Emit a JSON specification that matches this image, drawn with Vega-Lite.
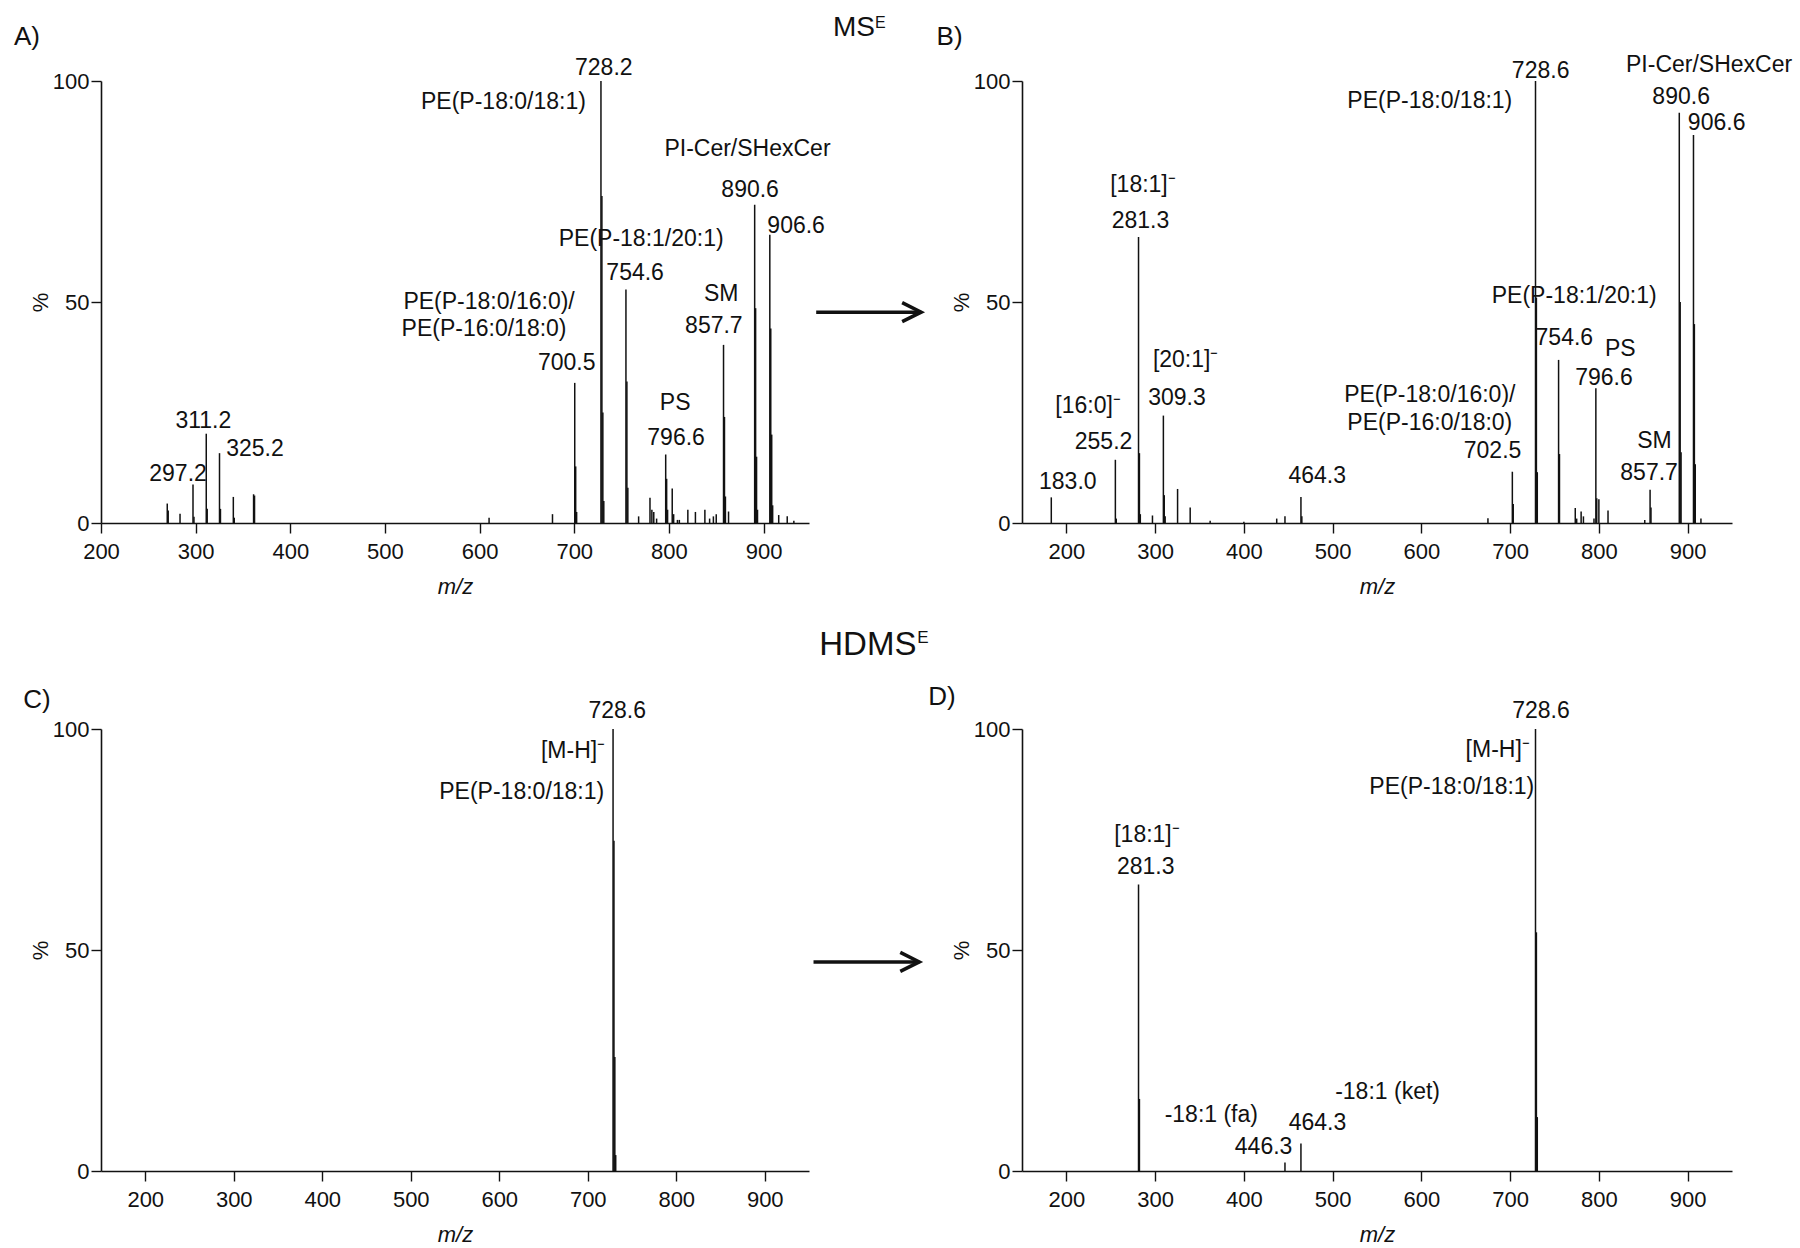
{
  "$schema": "https://vega.github.io/schema/vega-lite/v6.json",
  "background": "white",
  "padding": {"left": 14, "top": 13, "right": 5, "bottom": 5},
  "config": {
    "font": "Liberation Sans",
    "view": {"stroke": null},
    "axis": {"grid": false, "domainColor": "#111", "domainWidth": 1.6, "tickColor": "#111", "tickWidth": 1.4, "tickSize": 10, "labelFont": "Liberation Sans", "labelFontSize": 22, "labelColor": "#111", "titleFont": "Liberation Sans", "titleFontSize": 22, "titleFontWeight": "normal", "titleColor": "#111", "labelFlush": false, "labelOverlap": false},
    "axisX": {"labelPadding": 8, "titlePadding": 14},
    "axisY": {"labelPadding": 2, "titlePadding": 0},
    "text": {"color": "#111", "font": "Liberation Sans"}
  },
  "datasets": {
    "peaks": [
      {"panel": "A", "mz": 270, "pct": 4.4}, {"panel": "A", "mz": 271, "pct": 2.8}, {"panel": "A", "mz": 283.5, "pct": 2.1},
      {"panel": "A", "mz": 297.2, "pct": 8.7}, {"panel": "A", "mz": 298.2, "pct": 1.4}, {"panel": "A", "mz": 311.2, "pct": 20.2},
      {"panel": "A", "mz": 312.2, "pct": 3.2}, {"panel": "A", "mz": 325.2, "pct": 15.8}, {"panel": "A", "mz": 326.2, "pct": 3.2},
      {"panel": "A", "mz": 339.8, "pct": 5.9}, {"panel": "A", "mz": 340.8, "pct": 1.2}, {"panel": "A", "mz": 361.2, "pct": 6.5},
      {"panel": "A", "mz": 362.2, "pct": 6.2}, {"panel": "A", "mz": 610, "pct": 1.2}, {"panel": "A", "mz": 677, "pct": 2.0},
      {"panel": "A", "mz": 700.5, "pct": 31.7}, {"panel": "A", "mz": 701.5, "pct": 12.8}, {"panel": "A", "mz": 702.5, "pct": 2.5},
      {"panel": "A", "mz": 728.2, "pct": 100}, {"panel": "A", "mz": 729.2, "pct": 74}, {"panel": "A", "mz": 730.2, "pct": 25},
      {"panel": "A", "mz": 731.2, "pct": 5}, {"panel": "A", "mz": 754.6, "pct": 52.8}, {"panel": "A", "mz": 755.6, "pct": 32},
      {"panel": "A", "mz": 756.6, "pct": 8}, {"panel": "A", "mz": 768, "pct": 1.5}, {"panel": "A", "mz": 780, "pct": 5.7},
      {"panel": "A", "mz": 782, "pct": 3}, {"panel": "A", "mz": 784, "pct": 2.5}, {"panel": "A", "mz": 787, "pct": 1},
      {"panel": "A", "mz": 796.6, "pct": 15.5}, {"panel": "A", "mz": 797.6, "pct": 10}, {"panel": "A", "mz": 798.6, "pct": 3},
      {"panel": "A", "mz": 803.5, "pct": 7.8}, {"panel": "A", "mz": 805, "pct": 2}, {"panel": "A", "mz": 809, "pct": 0.7},
      {"panel": "A", "mz": 811, "pct": 0.7}, {"panel": "A", "mz": 820, "pct": 3}, {"panel": "A", "mz": 828, "pct": 2.5},
      {"panel": "A", "mz": 838, "pct": 3}, {"panel": "A", "mz": 843, "pct": 1}, {"panel": "A", "mz": 847, "pct": 1.5},
      {"panel": "A", "mz": 850, "pct": 2}, {"panel": "A", "mz": 857.7, "pct": 40.3}, {"panel": "A", "mz": 858.7, "pct": 24},
      {"panel": "A", "mz": 859.7, "pct": 6}, {"panel": "A", "mz": 863, "pct": 2.6}, {"panel": "A", "mz": 890.6, "pct": 72},
      {"panel": "A", "mz": 891.6, "pct": 48.6}, {"panel": "A", "mz": 892.6, "pct": 15}, {"panel": "A", "mz": 893.6, "pct": 3},
      {"panel": "A", "mz": 906.6, "pct": 65.2}, {"panel": "A", "mz": 907.6, "pct": 44}, {"panel": "A", "mz": 908.6, "pct": 20},
      {"panel": "A", "mz": 909.6, "pct": 4}, {"panel": "A", "mz": 916, "pct": 1.8}, {"panel": "A", "mz": 925, "pct": 1.5},
      {"panel": "A", "mz": 932, "pct": 0.5},
      {"panel": "B", "mz": 183.0, "pct": 5.8}, {"panel": "B", "mz": 255.2, "pct": 14.3}, {"panel": "B", "mz": 256.2, "pct": 1},
      {"panel": "B", "mz": 281.3, "pct": 64.7}, {"panel": "B", "mz": 282.3, "pct": 15.8}, {"panel": "B", "mz": 283.3, "pct": 2},
      {"panel": "B", "mz": 297, "pct": 1.7}, {"panel": "B", "mz": 309.3, "pct": 24.3}, {"panel": "B", "mz": 310.3, "pct": 6.3},
      {"panel": "B", "mz": 311.3, "pct": 1.5}, {"panel": "B", "mz": 325.3, "pct": 7.7}, {"panel": "B", "mz": 339.5, "pct": 3.5},
      {"panel": "B", "mz": 362, "pct": 0.5}, {"panel": "B", "mz": 400, "pct": 0.3}, {"panel": "B", "mz": 437, "pct": 1},
      {"panel": "B", "mz": 446.3, "pct": 1.5}, {"panel": "B", "mz": 464.3, "pct": 5.9}, {"panel": "B", "mz": 465.3, "pct": 1.5},
      {"panel": "B", "mz": 675, "pct": 1.1}, {"panel": "B", "mz": 702.5, "pct": 11.6}, {"panel": "B", "mz": 703.5, "pct": 4.3},
      {"panel": "B", "mz": 728.6, "pct": 100}, {"panel": "B", "mz": 729.6, "pct": 51}, {"panel": "B", "mz": 730.6, "pct": 11.5},
      {"panel": "B", "mz": 754.6, "pct": 36.9}, {"panel": "B", "mz": 755.6, "pct": 15.6}, {"panel": "B", "mz": 773.4, "pct": 3.4},
      {"panel": "B", "mz": 775, "pct": 1}, {"panel": "B", "mz": 780, "pct": 2.6}, {"panel": "B", "mz": 782.6, "pct": 1.5},
      {"panel": "B", "mz": 794.5, "pct": 1}, {"panel": "B", "mz": 796.6, "pct": 30.5}, {"panel": "B", "mz": 797.6, "pct": 5.6},
      {"panel": "B", "mz": 800, "pct": 5.4}, {"panel": "B", "mz": 810.3, "pct": 2.8}, {"panel": "B", "mz": 851.7, "pct": 0.7},
      {"panel": "B", "mz": 857.7, "pct": 7.5}, {"panel": "B", "mz": 858.7, "pct": 3.5}, {"panel": "B", "mz": 890.6, "pct": 92.8},
      {"panel": "B", "mz": 891.6, "pct": 50}, {"panel": "B", "mz": 892.6, "pct": 16}, {"panel": "B", "mz": 906.6, "pct": 87.8},
      {"panel": "B", "mz": 907.6, "pct": 45}, {"panel": "B", "mz": 908.6, "pct": 13.3}, {"panel": "B", "mz": 915, "pct": 1},
      {"panel": "C", "mz": 728.6, "pct": 100}, {"panel": "C", "mz": 729.6, "pct": 74.7}, {"panel": "C", "mz": 730.6, "pct": 25.8},
      {"panel": "C", "mz": 731.6, "pct": 3.6},
      {"panel": "D", "mz": 281.3, "pct": 64.8}, {"panel": "D", "mz": 282.3, "pct": 16.3}, {"panel": "D", "mz": 446.3, "pct": 1.9},
      {"panel": "D", "mz": 464.3, "pct": 6.2}, {"panel": "D", "mz": 728.6, "pct": 100}, {"panel": "D", "mz": 729.6, "pct": 54},
      {"panel": "D", "mz": 730.6, "pct": 12.2}
    ],
    "labels": [
      {"panel": "A", "mz": 731.2, "pct": 103.0, "text": "728.2"},
      {"panel": "A", "mz": 625.2, "pct": 95.2, "text": "PE(P-18:0/18:1)"},
      {"panel": "A", "mz": 883, "pct": 84.6, "text": "PI-Cer/SHexCer"},
      {"panel": "A", "mz": 885.8, "pct": 75.3, "text": "890.6"},
      {"panel": "A", "mz": 934.4, "pct": 67.3, "text": "906.6"},
      {"panel": "A", "mz": 770.7, "pct": 64.2, "text": "PE(P-18:1/20:1)"},
      {"panel": "A", "mz": 764.3, "pct": 56.5, "text": "754.6"},
      {"panel": "A", "mz": 855.2, "pct": 51.7, "text": "SM"},
      {"panel": "A", "mz": 847.5, "pct": 44.6, "text": "857.7"},
      {"panel": "A", "mz": 610, "pct": 50, "text": "PE(P-18:0/16:0)/"},
      {"panel": "A", "mz": 604.7, "pct": 43.9, "text": "PE(P-16:0/18:0)"},
      {"panel": "A", "mz": 692, "pct": 36.1, "text": "700.5"},
      {"panel": "A", "mz": 806.6, "pct": 27.2, "text": "PS"},
      {"panel": "A", "mz": 807.6, "pct": 19.2, "text": "796.6"},
      {"panel": "A", "mz": 308.1, "pct": 23.1, "text": "311.2"},
      {"panel": "A", "mz": 362.7, "pct": 16.7, "text": "325.2"},
      {"panel": "A", "mz": 281.4, "pct": 11, "text": "297.2"},
      {"panel": "B", "mz": 734.4, "pct": 102.3, "text": "728.6"},
      {"panel": "B", "mz": 609.5, "pct": 95.4, "text": "PE(P-18:0/18:1)"},
      {"panel": "B", "mz": 924.2, "pct": 103.6, "text": "PI-Cer/SHexCer"},
      {"panel": "B", "mz": 892.7, "pct": 96.3, "text": "890.6"},
      {"panel": "B", "mz": 932.7, "pct": 90.6, "text": "906.6"},
      {"panel": "B", "mz": 772.2, "pct": 51.3, "text": "PE(P-18:1/20:1)"},
      {"panel": "B", "mz": 761.1, "pct": 41.9, "text": "754.6"},
      {"panel": "B", "mz": 824.2, "pct": 39.4, "text": "PS"},
      {"panel": "B", "mz": 805.8, "pct": 32.8, "text": "796.6"},
      {"panel": "B", "mz": 609.5, "pct": 29, "text": "PE(P-18:0/16:0)/"},
      {"panel": "B", "mz": 609.5, "pct": 22.7, "text": "PE(P-16:0/18:0)"},
      {"panel": "B", "mz": 680.2, "pct": 16.4, "text": "702.5"},
      {"panel": "B", "mz": 862.6, "pct": 18.6, "text": "SM"},
      {"panel": "B", "mz": 856.6, "pct": 11.3, "text": "857.7"},
      {"panel": "B", "mz": 286.3, "pct": 76.5, "text": "[18:1]\u207b"},
      {"panel": "B", "mz": 283.5, "pct": 68.3, "text": "281.3"},
      {"panel": "B", "mz": 334.4, "pct": 36.9, "text": "[20:1]\u207b"},
      {"panel": "B", "mz": 324.6, "pct": 28.3, "text": "309.3"},
      {"panel": "B", "mz": 224.5, "pct": 26.4, "text": "[16:0]\u207b"},
      {"panel": "B", "mz": 241.9, "pct": 18.3, "text": "255.2"},
      {"panel": "B", "mz": 201.6, "pct": 9.2, "text": "183.0"},
      {"panel": "B", "mz": 482.6, "pct": 10.7, "text": "464.3"},
      {"panel": "C", "mz": 733.3, "pct": 104, "text": "728.6"},
      {"panel": "C", "mz": 683.4, "pct": 95, "text": "[M-H]\u207b"},
      {"panel": "C", "mz": 625.4, "pct": 85.8, "text": "PE(P-18:0/18:1)"},
      {"panel": "D", "mz": 734.8, "pct": 104, "text": "728.6"},
      {"panel": "D", "mz": 686, "pct": 95.2, "text": "[M-H]\u207b"},
      {"panel": "D", "mz": 634.3, "pct": 86.9, "text": "PE(P-18:0/18:1)"},
      {"panel": "D", "mz": 290.8, "pct": 76, "text": "[18:1]\u207b"},
      {"panel": "D", "mz": 289.4, "pct": 68.8, "text": "281.3"},
      {"panel": "D", "mz": 363.3, "pct": 12.6, "text": "-18:1 (fa)"},
      {"panel": "D", "mz": 422.2, "pct": 5.5, "text": "446.3"},
      {"panel": "D", "mz": 482.9, "pct": 10.8, "text": "464.3"},
      {"panel": "D", "mz": 561.9, "pct": 17.9, "text": "-18:1 (ket)"}
    ],
    "tags": [
      {"panel": "A", "kind": "letter", "mz": 108.1, "pct": 112.9, "text": "A)"},
      {"panel": "B", "kind": "letter", "mz": 53.7, "pct": 112.9, "text": "B)"},
      {"panel": "C", "kind": "letter", "mz": 62.2, "pct": 109.5, "text": "C)"},
      {"panel": "D", "kind": "letter", "mz": 44.4, "pct": 110.2, "text": "D)"},
      {"panel": "A", "kind": "title", "mz": 973.4, "pct": 115.2, "text": "MS"},
      {"panel": "A", "kind": "sup", "mz": 1017.8, "pct": 115.0, "text": "E"},
      {"panel": "C", "kind": "title", "mz": 961.6, "pct": 122.6, "text": "HDMS"},
      {"panel": "C", "kind": "sup", "mz": 1072.4, "pct": 122.3, "text": "E"}
    ],
    "arrows": [
      {"panel": "A", "mz": 955.6, "mz2": 1066.5, "pct": 47.7},
      {"panel": "C", "mz": 955.1, "mz2": 1074.6, "pct": 47.3}
    ]
  },
  "columns": 2,
  "bounds": "flush",
  "spacing": {"row": 206, "column": 213},
  "concat": [
    {
      "width": 708, "height": 442,
      "layer": [
        {"data": {"name": "peaks"}, "transform": [{"filter": "datum.panel === 'A'"}],
         "mark": {"type": "rule", "strokeWidth": 1.5, "color": "#111"},
         "encoding": {
           "x": {"field": "mz", "type": "quantitative", "scale": {"domain": [200, 948], "nice": false, "zero": false}, "axis": {"values": [200, 300, 400, 500, 600, 700, 800, 900], "title": "m/z", "titleFontStyle": "italic"}},
           "y": {"field": "pct", "type": "quantitative", "scale": {"domain": [0, 100], "nice": false}, "axis": {"values": [0, 50, 100], "title": "%"}},
           "y2": {"datum": 0}}},
        {"data": {"name": "labels"}, "transform": [{"filter": "datum.panel === 'A'"}],
         "mark": {"type": "text", "fontSize": 23, "align": "center", "baseline": "middle"},
         "encoding": {"x": {"field": "mz", "type": "quantitative"}, "y": {"field": "pct", "type": "quantitative"}, "text": {"field": "text"}}},
        {"data": {"name": "tags"}, "transform": [{"filter": "datum.panel === 'A' && datum.kind === 'letter'"}],
         "mark": {"type": "text", "fontSize": 26, "align": "left", "baseline": "top"},
         "encoding": {"x": {"field": "mz", "type": "quantitative"}, "y": {"field": "pct", "type": "quantitative"}, "text": {"field": "text"}}},
        {"data": {"name": "tags"}, "transform": [{"filter": "datum.panel === 'A' && datum.kind === 'title'"}],
         "mark": {"type": "text", "fontSize": 28, "align": "left", "baseline": "top"},
         "encoding": {"x": {"field": "mz", "type": "quantitative"}, "y": {"field": "pct", "type": "quantitative"}, "text": {"field": "text"}}},
        {"data": {"name": "tags"}, "transform": [{"filter": "datum.panel === 'A' && datum.kind === 'sup'"}],
         "mark": {"type": "text", "fontSize": 16, "align": "left", "baseline": "top"},
         "encoding": {"x": {"field": "mz", "type": "quantitative"}, "y": {"field": "pct", "type": "quantitative"}, "text": {"field": "text"}}},
        {"data": {"name": "arrows"}, "transform": [{"filter": "datum.panel === 'A'"}],
         "mark": {"type": "rule", "strokeWidth": 3.5, "color": "#111"},
         "encoding": {"x": {"field": "mz", "type": "quantitative"}, "x2": {"field": "mz2"}, "y": {"field": "pct", "type": "quantitative"}}},
        {"data": {"name": "arrows"}, "transform": [{"filter": "datum.panel === 'A'"}],
         "mark": {"type": "point", "shape": "M -2 -1 L 0 0 L -2 1", "filled": false, "size": 361, "strokeWidth": 3.5, "color": "#111", "opacity": 1, "strokeJoin": "miter"},
         "encoding": {"x": {"field": "mz2", "type": "quantitative"}, "y": {"field": "pct", "type": "quantitative"}}}
      ]
    },
    {
      "width": 710, "height": 442,
      "layer": [
        {"data": {"name": "peaks"}, "transform": [{"filter": "datum.panel === 'B'"}],
         "mark": {"type": "rule", "strokeWidth": 1.5, "color": "#111"},
         "encoding": {
           "x": {"field": "mz", "type": "quantitative", "scale": {"domain": [150, 950], "nice": false, "zero": false}, "axis": {"values": [200, 300, 400, 500, 600, 700, 800, 900], "title": "m/z", "titleFontStyle": "italic"}},
           "y": {"field": "pct", "type": "quantitative", "scale": {"domain": [0, 100], "nice": false}, "axis": {"values": [0, 50, 100], "title": "%"}},
           "y2": {"datum": 0}}},
        {"data": {"name": "labels"}, "transform": [{"filter": "datum.panel === 'B'"}],
         "mark": {"type": "text", "fontSize": 23, "align": "center", "baseline": "middle"},
         "encoding": {"x": {"field": "mz", "type": "quantitative"}, "y": {"field": "pct", "type": "quantitative"}, "text": {"field": "text"}}},
        {"data": {"name": "tags"}, "transform": [{"filter": "datum.panel === 'B' && datum.kind === 'letter'"}],
         "mark": {"type": "text", "fontSize": 26, "align": "left", "baseline": "top"},
         "encoding": {"x": {"field": "mz", "type": "quantitative"}, "y": {"field": "pct", "type": "quantitative"}, "text": {"field": "text"}}}
      ]
    },
    {
      "width": 708, "height": 442,
      "layer": [
        {"data": {"name": "peaks"}, "transform": [{"filter": "datum.panel === 'C'"}],
         "mark": {"type": "rule", "strokeWidth": 1.5, "color": "#111"},
         "encoding": {
           "x": {"field": "mz", "type": "quantitative", "scale": {"domain": [150, 950], "nice": false, "zero": false}, "axis": {"values": [200, 300, 400, 500, 600, 700, 800, 900], "title": "m/z", "titleFontStyle": "italic"}},
           "y": {"field": "pct", "type": "quantitative", "scale": {"domain": [0, 100], "nice": false}, "axis": {"values": [0, 50, 100], "title": "%"}},
           "y2": {"datum": 0}}},
        {"data": {"name": "labels"}, "transform": [{"filter": "datum.panel === 'C'"}],
         "mark": {"type": "text", "fontSize": 23, "align": "center", "baseline": "middle"},
         "encoding": {"x": {"field": "mz", "type": "quantitative"}, "y": {"field": "pct", "type": "quantitative"}, "text": {"field": "text"}}},
        {"data": {"name": "tags"}, "transform": [{"filter": "datum.panel === 'C' && datum.kind === 'letter'"}],
         "mark": {"type": "text", "fontSize": 26, "align": "left", "baseline": "top"},
         "encoding": {"x": {"field": "mz", "type": "quantitative"}, "y": {"field": "pct", "type": "quantitative"}, "text": {"field": "text"}}},
        {"data": {"name": "tags"}, "transform": [{"filter": "datum.panel === 'C' && datum.kind === 'title'"}],
         "mark": {"type": "text", "fontSize": 33, "align": "left", "baseline": "top"},
         "encoding": {"x": {"field": "mz", "type": "quantitative"}, "y": {"field": "pct", "type": "quantitative"}, "text": {"field": "text"}}},
        {"data": {"name": "tags"}, "transform": [{"filter": "datum.panel === 'C' && datum.kind === 'sup'"}],
         "mark": {"type": "text", "fontSize": 17, "align": "left", "baseline": "top"},
         "encoding": {"x": {"field": "mz", "type": "quantitative"}, "y": {"field": "pct", "type": "quantitative"}, "text": {"field": "text"}}},
        {"data": {"name": "arrows"}, "transform": [{"filter": "datum.panel === 'C'"}],
         "mark": {"type": "rule", "strokeWidth": 3.5, "color": "#111"},
         "encoding": {"x": {"field": "mz", "type": "quantitative"}, "x2": {"field": "mz2"}, "y": {"field": "pct", "type": "quantitative"}}},
        {"data": {"name": "arrows"}, "transform": [{"filter": "datum.panel === 'C'"}],
         "mark": {"type": "point", "shape": "M -2 -1 L 0 0 L -2 1", "filled": false, "size": 361, "strokeWidth": 3.5, "color": "#111", "opacity": 1, "strokeJoin": "miter"},
         "encoding": {"x": {"field": "mz2", "type": "quantitative"}, "y": {"field": "pct", "type": "quantitative"}}}
      ]
    },
    {
      "width": 710, "height": 442,
      "layer": [
        {"data": {"name": "peaks"}, "transform": [{"filter": "datum.panel === 'D'"}],
         "mark": {"type": "rule", "strokeWidth": 1.5, "color": "#111"},
         "encoding": {
           "x": {"field": "mz", "type": "quantitative", "scale": {"domain": [150, 950], "nice": false, "zero": false}, "axis": {"values": [200, 300, 400, 500, 600, 700, 800, 900], "title": "m/z", "titleFontStyle": "italic"}},
           "y": {"field": "pct", "type": "quantitative", "scale": {"domain": [0, 100], "nice": false}, "axis": {"values": [0, 50, 100], "title": "%"}},
           "y2": {"datum": 0}}},
        {"data": {"name": "labels"}, "transform": [{"filter": "datum.panel === 'D'"}],
         "mark": {"type": "text", "fontSize": 23, "align": "center", "baseline": "middle"},
         "encoding": {"x": {"field": "mz", "type": "quantitative"}, "y": {"field": "pct", "type": "quantitative"}, "text": {"field": "text"}}},
        {"data": {"name": "tags"}, "transform": [{"filter": "datum.panel === 'D' && datum.kind === 'letter'"}],
         "mark": {"type": "text", "fontSize": 26, "align": "left", "baseline": "top"},
         "encoding": {"x": {"field": "mz", "type": "quantitative"}, "y": {"field": "pct", "type": "quantitative"}, "text": {"field": "text"}}}
      ]
    }
  ]
}
